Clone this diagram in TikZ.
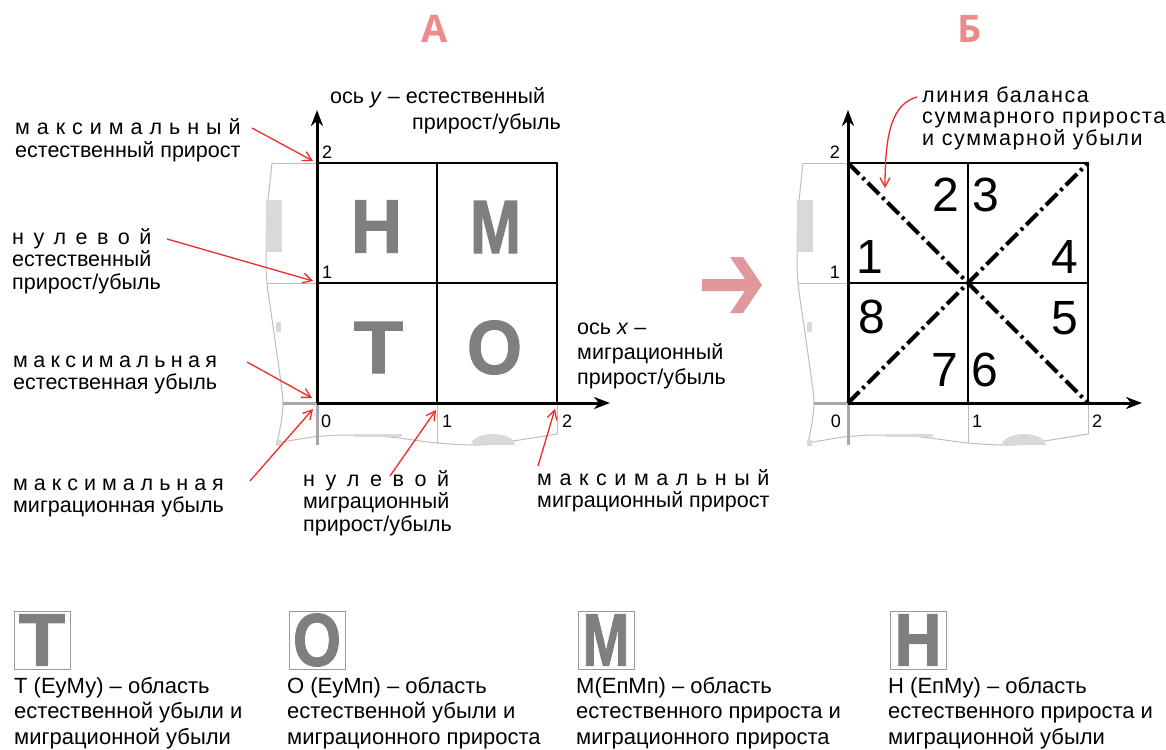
\documentclass[tikz,border=0pt]{standalone}
\usepackage{fontspec}
\usepackage{graphicx}
\setmainfont{Liberation Sans}
\newfontfamily\heavy{Liberation Sans}[BoldFeatures={FakeBold=1.6}]
\newfontfamily\titlefont{Open Sans}
\usetikzlibrary{arrows.meta}
\definecolor{redarrow}{HTML}{EE2B2B}
\definecolor{sheet}{HTML}{BDBDBD}
\definecolor{sheetdark}{HTML}{A8A8A8}
\definecolor{sheetfill}{HTML}{D9D9D9}
\definecolor{lettergrey}{HTML}{7F7F7F}
\definecolor{titlepink}{HTML}{EE8A8A}
\definecolor{bigarrow}{HTML}{E0989C}
\definecolor{boxgrey}{HTML}{9A9A9A}
\makeatletter
\newlength\spreadlen
\def\spread@letters#1#2\@nil{#1\@tfor\spread@x:=#2\do{\hfil\spread@x}}
\newcommand\spreadword[2]{\settowidth\spreadlen{#1}\makebox[\spreadlen][s]{\spread@letters#2\@nil}}
\makeatother
\newcommand\drawsheet{%
  \draw[sheet, line width=1pt] (-45,-240) -- (0,-240);
  \draw[sheet, line width=1pt] plot[smooth] coordinates {(-45,-240) (-50,-190) (-51,-150) (-50,-120) (-43,-70) (-36,-20) (-34,0) (-36,20) (-40,40)};
  \draw[sheet, line width=1pt] plot[smooth] coordinates {(-40,40) (-4,34) (30,32) (73,34) (120,40) (163,42) (196,38) (240,31)};
  \draw[sheet, line width=1pt] (240,31) -- (240,0);
  \draw[sheet, line width=1pt] (120,0) -- (120,40);
  \draw[sheet, line width=1pt] (-50,-120) -- (0,-120);
  \draw[sheetdark, line width=3pt] (-34,0) -- (0,0);
  \draw[sheetdark, line width=3pt] (0,0) -- (0,42);
  \fill[sheetfill] (-51,-203) rectangle (-35,-151);
  \fill[sheetfill] (-41,-81) rectangle (-36,-71);
  \fill[sheetfill] (38,31) rectangle (85,34);
  \fill[sheetfill] (-41,37) rectangle (-36,43);
  \fill[sheetfill] (154,42) arc[start angle=180, end angle=360, x radius=22, y radius=11] -- cycle;
}
\tikzset{
  lbl/.style={font=\fontsize{21.5}{22.5}\selectfont, align=left, inner sep=0pt, anchor=base west},
  redarr/.style={draw=redarrow, line width=1.3pt, -{Straight Barb[length=9pt,width=10pt]}},
  gridline/.style={line width=1.6pt},
  axisline/.style={line width=3pt, -{Stealth[length=16pt,width=12pt,inset=5pt]}},
  ticknum/.style={font=\fontsize{18}{18}\selectfont, inner sep=0pt, anchor=base west},
  bignum/.style={font=\fontsize{48}{48}\selectfont, inner sep=0pt},
  bigletter/.style={inner sep=0pt, text=lettergrey},
  legbox/.style={draw=boxgrey, line width=1pt, minimum width=56pt, minimum height=58pt, inner sep=0pt, text=lettergrey},
  legtext/.style={font=\fontsize{22}{25.5}\selectfont, align=left, inner sep=0pt, anchor=base west},
  balance/.style={line width=4pt, dash pattern=on 16pt off 4.5pt on 3pt off 4.5pt},
  title/.style={font=\titlefont\bfseries\fontsize{38}{38}\selectfont, text=titlepink, inner sep=0pt}
}
\begin{document}
\begin{tikzpicture}[x=1pt, y=-1pt]
\useasboundingbox (0,0) rectangle (1166,749);
% titles
\node[title] (tA) at (435,29) {А};
\node[title] (tB) at (970,29) {Б};
% ===== Panel A =====
\begin{scope}[shift={(317,403)}]\drawsheet\end{scope}
\coordinate (A00) at (317,403);
\coordinate (A10) at (437,403);
\coordinate (A20) at (557,403);
\coordinate (A01) at (317,283);
\coordinate (A02) at (317,163);
\coordinate (A21) at (557,283);
\coordinate (A12) at (437,163);
\coordinate (A22) at (557,163);
\coordinate (Ay) at (317,110);
\coordinate (Ax) at (610,403);
\draw[gridline] (A02) -- (A22) -- (A20);
\draw[gridline] (A12) -- (A10);
\draw[gridline] (A01) -- (A21);
\draw[axisline] (A00) -- (Ay);
\draw[axisline] (A00) -- (Ax);
\node[ticknum] (ay2) at (322,158) {2};
\node[ticknum] (ay1) at (322,278) {1};
\node[ticknum] (ax0) at (321,427) {0};
\node[ticknum] (ax1) at (442,427) {1};
\node[ticknum] (ax2) at (562,427) {2};
\node[bigletter] (LH) at (376.5,226.5) {\resizebox{51pt}{52pt}{\heavy\bfseries Н}};
\node[bigletter] (LM) at (495.5,227) {\resizebox{51pt}{52pt}{\heavy\bfseries М}};
\node[bigletter] (LT) at (378.5,347.5) {\resizebox{49pt}{51pt}{\heavy\bfseries Т}};
\node[bigletter] (LO) at (494.5,347.5) {\resizebox{55pt}{53pt}{\heavy\bfseries О}};
% axis captions
\node[lbl] (yl1) at (330,104) {ось \textit{y} – естественный};
\node[lbl, anchor=base east] (yl2) at (561,129) {прирост/убыль};
\node[lbl, font=\fontsize{21.5}{25}\selectfont] (xl) at (577,384) {ось \textit{x} –\\миграционный\\прирост/убыль};
% side labels
\node[lbl] (l1) at (15,157) {\spreadword{естественный прирост}{максимальный}\\естественный прирост};
\node[lbl] (l2) at (12,289) {\spreadword{естественный}{нулевой}\\естественный\\прирост/убыль};
\node[lbl] (l3) at (13,389.5) {\spreadword{естественная убыль}{максимальная}\\естественная убыль};
\node[lbl] (l4) at (13,512.5) {\spreadword{миграционная убыль}{максимальная}\\миграционная убыль};
\node[lbl] (l5) at (303,531) {\spreadword{миграционный}{нулевой}\\миграционный\\прирост/убыль};
\node[lbl] (l6) at (537,507.5) {\spreadword{миграционный прирост}{максимальный}\\миграционный прирост};
\coordinate (s1) at (252,128); \coordinate (e1) at (313,161);
\coordinate (s2) at (167,239); \coordinate (e2) at (313,281);
\coordinate (s3) at (247,362); \coordinate (e3) at (312,398);
\coordinate (s4) at (250,481); \coordinate (e4) at (313,409);
\coordinate (s5) at (390,476); \coordinate (e5) at (436,410);
\coordinate (s6) at (538,466); \coordinate (e6) at (555,409);
\draw[redarr] (s1) -- (e1);
\draw[redarr] (s2) -- (e2);
\draw[redarr] (s3) -- (e3);
\draw[redarr] (s4) -- (e4);
\draw[redarr] (s5) -- (e5);
\draw[redarr] (s6) -- (e6);
% big arrow
\fill[bigarrow] (702,279) -- (745,279) -- (730,257) -- (743,257) -- (762,285) -- (743,313) -- (730,313) -- (745,291) -- (702,291) -- cycle;
% ===== Panel B =====
\begin{scope}[shift={(848,403)}]\drawsheet\end{scope}
\coordinate (B00) at (848,403);
\coordinate (B10) at (968,403);
\coordinate (B20) at (1088,403);
\coordinate (B01) at (848,283);
\coordinate (B02) at (848,163);
\coordinate (B21) at (1088,283);
\coordinate (B12) at (968,163);
\coordinate (B22) at (1088,163);
\coordinate (B11) at (968,283);
\coordinate (By) at (848,110);
\coordinate (Bx) at (1142,403);
\draw[gridline] (B02) -- (B22) -- (B20);
\draw[gridline] (B12) -- (B10);
\draw[gridline] (B01) -- (B21);
\draw[balance] (B02) -- (B20);
\draw[balance] (B00) -- (B22);
\draw[axisline] (B00) -- (By);
\draw[axisline] (B00) -- (Bx);
\node[ticknum, anchor=base east] (by2) at (840,158) {2};
\node[ticknum, anchor=base east] (by1) at (840,278) {1};
\node[ticknum, anchor=base east] (bx0) at (841,427) {0};
\node[ticknum] (bx1) at (972,427) {1};
\node[ticknum] (bx2) at (1092,427) {2};
\node[bignum] (n2) at (946,195) {2};
\node[bignum] (n3) at (986,195) {3};
\node[bignum] (n1) at (870,257) {1};
\node[bignum] (n4) at (1065,257) {4};
\node[bignum] (n8) at (872,317) {8};
\node[bignum] (n5) at (1065,318) {5};
\node[bignum] (n7) at (945,370) {7};
\node[bignum] (n6) at (985,370) {6};
\node[lbl, font=\fontsize{21.5}{21.5}\selectfont\addfontfeature{LetterSpace=7.5}] (bal) at (922,145) {линия баланса\\суммарного прироста\\и суммарной убыли};
\coordinate (bs) at (917,97);
\coordinate (be) at (885,188);
\draw[redarr] (bs) .. controls (893,104) and (885,130) .. (be);
% ===== Legend =====
\node[legbox] (kT) at (42,640) {\resizebox{46pt}{51pt}{\heavy\bfseries Т}};
\node[legbox] (kO) at (317,640) {\resizebox{48pt}{52pt}{\heavy\bfseries О}};
\node[legbox] (kM) at (606,640) {\resizebox{47pt}{51pt}{\heavy\bfseries М}};
\node[legbox] (kH) at (918,640) {\resizebox{47pt}{51pt}{\heavy\bfseries Н}};
\node[legtext] (dT) at (14,744) {Т (ЕуМу) – область\\естественной убыли и\\миграционной убыли};
\node[legtext] (dO) at (287,744) {О (ЕуМп) – область\\естественной убыли и\\миграционного прироста};
\node[legtext] (dM) at (576,744) {М(ЕпМп) – область\\естественного прироста и\\миграционного прироста};
\node[legtext] (dH) at (888,744) {Н (ЕпМу) – область\\естественного прироста и\\миграционной убыли};
\end{tikzpicture}
\end{document}
